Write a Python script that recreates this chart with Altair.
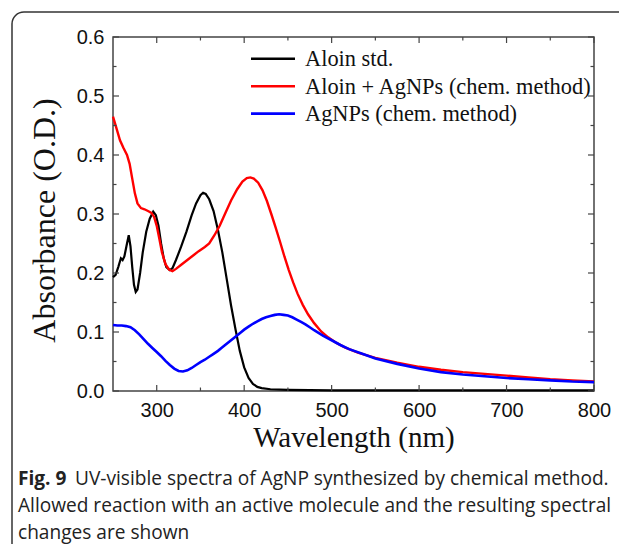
import altair as alt
import pandas as pd

# ---------------- data ----------------
series_names = ["Aloin std.", "Aloin + AgNPs (chem. method)", "AgNPs (chem. method)"]
series_colors = ["#000000", "#ff0000", "#0000ff"]
series_widths = [2.2, 2.6, 2.9]

wl_black = [250, 253, 256, 259, 261, 263, 266, 268, 270, 272, 274, 276, 278, 281, 284, 288,
            292, 296, 299, 302, 305, 308, 311, 315, 318, 322, 328, 334, 340, 345, 350, 353,
            356, 360, 365, 370, 375, 380, 385, 390, 395, 400, 405, 410, 415, 420, 430, 450,
            500, 600, 700, 800]
abs_black = [0.193, 0.197, 0.210, 0.225, 0.222, 0.228, 0.250, 0.264, 0.245, 0.210, 0.180,
             0.168, 0.172, 0.200, 0.235, 0.270, 0.292, 0.304, 0.298, 0.280, 0.250, 0.225,
             0.210, 0.205, 0.208, 0.222, 0.245, 0.270, 0.298, 0.318, 0.332, 0.336, 0.334,
             0.325, 0.305, 0.273, 0.235, 0.190, 0.145, 0.105, 0.068, 0.040, 0.022, 0.012,
             0.007, 0.005, 0.003, 0.002, 0.001, 0.001, 0.001, 0.001]

wl_red = [250, 254, 258, 262, 266, 269, 272, 275, 278, 282, 286, 290, 294, 297, 300, 303,
          306, 310, 314, 318, 322, 328, 335, 342, 348, 355, 360, 366, 372, 378, 385, 392,
          398, 403, 407, 411, 416, 421, 426, 431, 436, 441, 446, 451, 456, 461, 467, 473,
          480, 488, 496, 505, 515, 530, 550, 575, 600, 625, 650, 675, 700, 725, 750, 775, 800]
abs_red = [0.465, 0.445, 0.425, 0.412, 0.400, 0.385, 0.360, 0.335, 0.318, 0.310, 0.308,
           0.305, 0.302, 0.295, 0.280, 0.258, 0.235, 0.215, 0.206, 0.203, 0.207, 0.214,
           0.222, 0.230, 0.237, 0.244, 0.250, 0.264, 0.280, 0.300, 0.323, 0.342, 0.355,
           0.361, 0.362, 0.360, 0.353, 0.340, 0.322, 0.300, 0.277, 0.253, 0.228, 0.205,
           0.184, 0.165, 0.146, 0.130, 0.115, 0.101, 0.091, 0.082, 0.074, 0.065, 0.056,
           0.048, 0.041, 0.036, 0.032, 0.029, 0.026, 0.023, 0.020, 0.018, 0.016]

wl_blue = [250, 255, 260, 265, 270, 275, 280, 285, 290, 295, 300, 305, 310, 315, 320, 325,
           330, 335, 340, 345, 350, 355, 360, 365, 370, 375, 380, 385, 390, 395, 400, 405,
           410, 415, 420, 425, 430, 435, 440, 445, 450, 455, 460, 465, 470, 475, 480, 490,
           500, 510, 520, 535, 550, 575, 600, 625, 650, 675, 700, 725, 750, 775, 800]
abs_blue = [0.112, 0.111, 0.111, 0.110, 0.108, 0.103, 0.096, 0.088, 0.080, 0.073, 0.066,
            0.059, 0.051, 0.044, 0.038, 0.034, 0.033, 0.035, 0.039, 0.044, 0.049, 0.053,
            0.058, 0.063, 0.068, 0.074, 0.080, 0.086, 0.092, 0.098, 0.104, 0.109, 0.114,
            0.118, 0.122, 0.125, 0.127, 0.129, 0.130, 0.129, 0.128, 0.125, 0.121, 0.117,
            0.113, 0.108, 0.103, 0.094, 0.086, 0.078, 0.071, 0.063, 0.055, 0.046, 0.038,
            0.032, 0.028, 0.025, 0.022, 0.020, 0.018, 0.016, 0.015]

x_major = [300, 400, 500, 600, 700, 800]
x_minor = [350, 450, 550, 650, 750]
y_major = [0.0, 0.1, 0.2, 0.3, 0.4, 0.5, 0.6]
y_minor = [0.05, 0.15, 0.25, 0.35, 0.45, 0.55]

x_title = "Wavelength (nm)"
y_title = "Absorbance (O.D.)"
caption_bold = "Fig. 9"
caption_line1 = "UV-visible spectra of AgNP synthesized by chemical method."
caption_line2 = "Allowed reaction with an active molecule and the resulting spectral"
caption_line3 = "changes are shown"

# ---------------- build ----------------
W, H = 481, 354
FRAME = "#444444"
BORDER = "#333333"

rows = []
for name, wl, ab in [(series_names[0], wl_black, abs_black),
                     (series_names[1], wl_red, abs_red),
                     (series_names[2], wl_blue, abs_blue)]:
    for w, a in zip(wl, ab):
        rows.append({"series": name, "wl": w, "A": a})
df = pd.DataFrame(rows)

xscale = alt.Scale(domain=[250, 800], nice=False, zero=False)
yscale = alt.Scale(domain=[0, 0.6], nice=False, zero=False)
cscale = alt.Scale(domain=series_names, range=series_colors)
wscale = alt.Scale(domain=series_names, range=series_widths)

x_axis = alt.Axis(values=x_major, title=x_title, format="d", grid=False,
                  domain=False, tickSize=0, labelPadding=9, labelFlush=False,
                  labelFont="Liberation Sans", labelFontSize=20, labelColor="#111",
                  titleFont="Liberation Serif", titleFontSize=29,
                  titleFontWeight="normal", titleColor="#111", titlePadding=3)
y_axis = alt.Axis(values=y_major, title=y_title, format=".1f", grid=False,
                  domain=False, tickSize=0, labelPadding=9, labelFlush=False,
                  labelFont="Liberation Sans", labelFontSize=20, labelColor="#111",
                  titleFont="Liberation Serif", titleFontSize=32, titleY=183,
                  titleFontWeight="normal", titleColor="#111", titlePadding=15)

lines = alt.Chart(df).mark_line().encode(
    x=alt.X("wl:Q", scale=xscale, axis=x_axis),
    y=alt.Y("A:Q", scale=yscale, axis=y_axis),
    color=alt.Color("series:N", scale=cscale, sort=series_names, legend=None),
    strokeWidth=alt.StrokeWidth("series:N", scale=wscale, legend=None),
)

def xticks(vals, length):
    d = pd.DataFrame({"wl": vals})
    bottom = alt.Chart(d).mark_rule(color=FRAME, strokeWidth=1.2).encode(
        x=alt.X("wl:Q", scale=xscale, axis=x_axis), y=alt.value(H), y2=alt.value(H - length))
    top = alt.Chart(d).mark_rule(color=FRAME, strokeWidth=1.2).encode(
        x=alt.X("wl:Q", scale=xscale, axis=x_axis), y=alt.value(0), y2=alt.value(length))
    return [bottom, top]

def yticks(vals, length):
    d = pd.DataFrame({"A": vals})
    left = alt.Chart(d).mark_rule(color=FRAME, strokeWidth=1.2).encode(
        y=alt.Y("A:Q", scale=yscale, axis=y_axis), x=alt.value(0), x2=alt.value(length))
    right = alt.Chart(d).mark_rule(color=FRAME, strokeWidth=1.2).encode(
        y=alt.Y("A:Q", scale=yscale, axis=y_axis), x=alt.value(W), x2=alt.value(W - length))
    return [left, right]

ticks = xticks(x_major, 6) + xticks(x_minor, 3.5) + yticks(y_major, 6) + yticks(y_minor, 3.5)

# legend (inside the plot, top)
legend_rows = [21.8, 49.3, 76.6]
legend_layers = []
for name, ry in zip(series_names, legend_rows):
    d = pd.DataFrame({"series": [name]})
    legend_layers.append(alt.Chart(d).mark_rule(strokeWidth=2.6).encode(
        x=alt.value(138), x2=alt.value(182), y=alt.value(ry),
        color=alt.Color("series:N", scale=cscale, legend=None)))
    legend_layers.append(alt.Chart(d).mark_text(
        align="left", baseline="alphabetic", font="Liberation Serif", fontSize=22.4,
        color="#111").encode(text="series:N", x=alt.value(192), y=alt.value(ry + 7.6)))

# figure border (top and left edges with a rounded corner)
one = pd.DataFrame({"a": [0]})
border_top = alt.Chart(one).mark_rule(color=BORDER, strokeWidth=1.5).encode(
    x=alt.value(-89), x2=alt.value(700), y=alt.value(-25))
border_left = alt.Chart(one).mark_rule(color=BORDER, strokeWidth=1.5).encode(
    x=alt.value(-101), y=alt.value(-13), y2=alt.value(600))
border_corner = alt.Chart(one).mark_arc(color=BORDER, radius=12.75, radius2=11.25,
                                        theta=4.7124, theta2=6.2832).encode(
    x=alt.value(-89), y=alt.value(-13))

cap_style = dict(align="left", baseline="alphabetic", font="Open Sans", fontSize=19.1,
                 color="#222")
cap_b = alt.Chart(pd.DataFrame({"t": [caption_bold]})).mark_text(
    fontWeight="bold", **cap_style).encode(text="t:N", x=alt.value(-95), y=alt.value(448))
cap_1 = alt.Chart(pd.DataFrame({"t": [caption_line1]})).mark_text(**cap_style).encode(
    text="t:N", x=alt.value(-38), y=alt.value(448))
cap_2 = alt.Chart(pd.DataFrame({"t": [caption_line2]})).mark_text(**cap_style).encode(
    text="t:N", x=alt.value(-95), y=alt.value(475))
cap_3 = alt.Chart(pd.DataFrame({"t": [caption_line3]})).mark_text(**cap_style).encode(
    text="t:N", x=alt.value(-95), y=alt.value(502))

chart = alt.layer(border_top, border_left, border_corner, lines, *ticks, *legend_layers,
                  cap_b, cap_1, cap_2, cap_3).properties(
    width=W, height=H,
    autosize=alt.AutoSizeParams(type="none"),
    padding={"left": 105, "top": 29, "right": 25, "bottom": 153},
    background="white",
).configure_view(stroke=FRAME, strokeWidth=1.5)

chart.save("out.html", embed_options={"renderer": "svg", "actions": False})
